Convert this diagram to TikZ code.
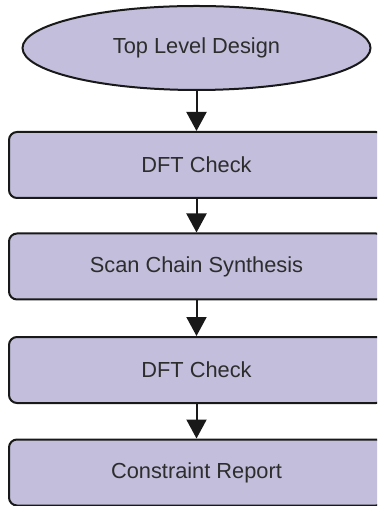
\documentclass[tikz,border=0pt]{standalone}
\usepackage{fontspec}
\setmainfont{Liberation Sans}
\usepackage{tikz}
\usetikzlibrary{shapes,arrows.meta}
\definecolor{stepfill}{RGB}{194,190,220}
\definecolor{textgray}{RGB}{45,45,45}
\tikzset{
	>={Triangle[width=10pt,length=9.5pt]},
	every edge/.style={draw=black!90, line width=1pt, ->},
	flowbox/.style={rectangle, rounded corners=4pt, draw=black!90, line width=1pt,
		fill=stepfill, text=textgray, inner sep=0pt,
		minimum width=187.5pt, minimum height=33pt,
		font=\fontsize{10.9}{12}\selectfont},
	flowstart/.style={ellipse, draw=black!90, line width=1pt,
		fill=stepfill, text=textgray, inner sep=0pt,
		minimum width=174pt, minimum height=42pt,
		font=\fontsize{10.9}{12}\selectfont},
}

\begin{document}
\begin{tikzpicture}[x=0.5pt,y=-0.5pt]
		\clip (0,0) rectangle (377,506);
		\node[flowstart] (top) at (196.5,48) {Top Level Design};
		\node[flowbox] (dft1) at (196.5,165) {DFT Check};
		\node[flowbox] (scan) at (196.5,266.5) {Scan Chain Synthesis};
		\node[flowbox] (dft2) at (196.5,370) {DFT Check};
		\node[flowbox] (report) at (196.5,472.5) {Constraint Report};

		\draw (top) edge (dft1)
		(dft1) edge (scan)
		(scan) edge (dft2)
		(dft2) edge (report);
	\end{tikzpicture}
\end{document}
